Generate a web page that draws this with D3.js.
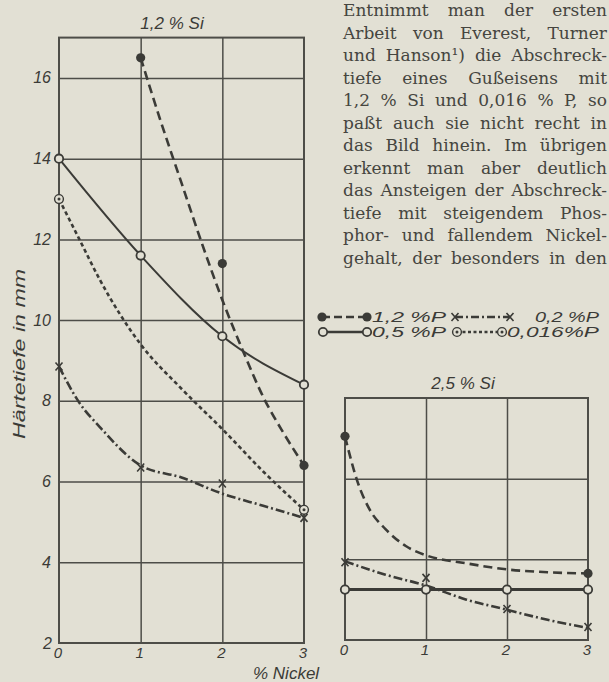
<!DOCTYPE html>
<html>
<head>
<meta charset="utf-8">
<script src="https://cdn.jsdelivr.net/npm/d3@7"></script>
<style>
  html, body { margin: 0; padding: 0; background: #e2e0d4; }
  svg { display: block; }
</style>
</head>
<body>
<svg id="fig" width="609" height="682"></svg>
<script>
// ---- data: chill depth (mm) versus nickel content (%) ----
const nickelTicks = [0, 1, 2, 3];
const depthTicksLow = [2, 4, 6, 8, 10, 12, 14, 16];
const depthTicksHigh = [2, 4, 6, 8];

// 1,2 % Si — measured points
const lowSiP12 = [[1, 16.5], [2, 11.4], [3, 6.4]];
const lowSiP05 = [[0, 14.0], [1, 11.6], [2, 9.6], [3, 8.4]];
const lowSiP02 = [[0, 8.85], [1, 6.35], [2, 5.95], [3, 5.1]];
const lowSiP0016 = [[0, 13.0], [3, 5.3]];
// 1,2 % Si — drawn trend curves
const lowSiP12Curve = [[1, 16.5], [1.25, 14.9], [1.5, 13.4], [1.75, 11.9], [2, 10.5], [2.25, 9.25], [2.5, 8.1], [2.75, 7.2], [3, 6.4]];
const lowSiP05Curve = [[0, 14.0], [1, 11.6], [2, 9.6], [3, 8.4]];
const lowSiP02Curve = [[0, 8.85], [0.25, 7.95], [0.5, 7.35], [1, 6.4], [1.5, 6.1], [2, 5.7], [2.5, 5.4], [3, 5.1]];
const lowSiP0016Curve = [[0, 13.0], [0.25, 12.0], [0.5, 11.0], [1, 9.4], [1.5, 8.3], [2, 7.3], [2.5, 6.25], [3, 5.3]];

// 2,5 % Si — measured points
const highSiP12 = [[0, 7.05], [3, 3.65]];
const highSiP05 = [[0, 3.25], [1, 3.25], [2, 3.25], [3, 3.25]];
const highSiP02 = [[0, 3.93], [1, 3.54], [2, 2.77], [3, 2.32]];
// 2,5 % Si — drawn trend curves
const highSiP12Curve = [[0, 7.05], [0.15, 5.95], [0.3, 5.25], [0.5, 4.75], [0.75, 4.33], [1, 4.1], [1.5, 3.9], [2, 3.75], [2.5, 3.68], [3, 3.65]];
const highSiP05Curve = [[0, 3.25], [3, 3.25]];
const highSiP02Curve = [[0, 3.95], [0.5, 3.62], [1, 3.35], [1.5, 3.0], [2, 2.75], [2.5, 2.5], [3, 2.3]];

// legend entries
const legendRows = [
  [{ key: "P12", label: "1,2 %P" }, { key: "P02", label: "0,2 %P" }],
  [{ key: "P05", label: "0,5 %P" }, { key: "P0016", label: "0,016%P" }]
];

// running text beside the figure
const paragraph = [
  "Entnimmt man der ersten",
  "Arbeit von Everest, Turner",
  "und Hanson¹) die Abschreck-",
  "tiefe eines Gußeisens mit",
  "1,2 % Si und 0,016 % P, so",
  "paßt auch sie nicht recht in",
  "das Bild hinein. Im übrigen",
  "erkennt man aber deutlich",
  "das Ansteigen der Abschreck-",
  "tiefe mit steigendem Phos-",
  "phor- und fallendem Nickel-",
  "gehalt, der besonders in den"
];

// ---- styling ----
const PAPER = "#e2e0d4";
const INK = "#3b3b37";
const GRID = "#4d4d48";
const LABEL_FONT = "'Liberation Sans', Arial, sans-serif";
const styles = {
  P12:   { dash: "9,5",      legendDash: "8,4",     width: 2.6, marker: "dot" },
  P05:   { dash: null,       legendDash: null,      width: 2.0, marker: "ring" },
  P02:   { dash: "9,3,2,3",  legendDash: "8,3,2,3", width: 2.6, marker: "cross" },
  P0016: { dash: "4,3",      legendDash: "3,2.5",   width: 2.6, marker: "double" }
};

const svg = d3.select("#fig");

function drawMarker(g, type, x, y) {
  if (type === "dot") {
    g.append("circle").attr("cx", x).attr("cy", y).attr("r", 4.6).attr("fill", INK);
  } else if (type === "ring") {
    g.append("circle").attr("cx", x).attr("cy", y).attr("r", 4.2)
      .attr("fill", PAPER).attr("stroke", INK).attr("stroke-width", 1.8);
  } else if (type === "double") {
    g.append("circle").attr("cx", x).attr("cy", y).attr("r", 4.4)
      .attr("fill", PAPER).attr("stroke", INK).attr("stroke-width", 1.4);
    g.append("circle").attr("cx", x).attr("cy", y).attr("r", 1.5).attr("fill", INK);
  } else if (type === "cross") {
    g.append("path")
      .attr("d", `M${x - 3.5},${y - 4}L${x + 3.5},${y + 4}M${x - 3.5},${y + 4}L${x + 3.5},${y - 4}`)
      .attr("stroke", INK).attr("stroke-width", 1.6).attr("fill", "none");
  }
}

function panel(opts) {
  const x = d3.scaleLinear().domain([0, 3]).range(opts.xRange);
  const y = d3.scaleLinear().domain(opts.yDomain).range(opts.yRange);
  const g = svg.append("g");

  // grid
  const gridY = opts.yTicks.filter(v => v > opts.yDomain[0] && v < opts.yDomain[1]);
  g.append("g").call(d3.axisLeft(y).tickValues(gridY).tickSize(-(opts.xRange[1] - opts.xRange[0])).tickFormat(""))
    .attr("transform", `translate(${opts.xRange[0]},0)`)
    .call(a => a.select(".domain").remove())
    .call(a => a.selectAll("line").attr("stroke", GRID).attr("stroke-width", 1.5));
  g.append("g").call(d3.axisBottom(x).tickValues([1, 2]).tickSize(-(opts.yRange[0] - opts.yRange[1])).tickFormat(""))
    .attr("transform", `translate(0,${opts.yRange[0]})`)
    .call(a => a.select(".domain").remove())
    .call(a => a.selectAll("line").attr("stroke", GRID).attr("stroke-width", 1.5));

  // frame
  g.append("rect")
    .attr("x", opts.xRange[0]).attr("y", opts.yRange[1])
    .attr("width", opts.xRange[1] - opts.xRange[0]).attr("height", opts.yRange[0] - opts.yRange[1])
    .attr("fill", "none").attr("stroke", GRID).attr("stroke-width", 2);

  // nickel tick labels
  g.append("g").selectAll("text").data(nickelTicks).join("text")
    .attr("x", d => x(d) - 1).attr("y", opts.yRange[0] + 15)
    .attr("text-anchor", "middle")
    .attr("font-family", LABEL_FONT).attr("font-style", "italic")
    .attr("font-size", 15).attr("fill", INK)
    .text(d => d);

  // depth tick labels
  if (opts.showY) {
    g.append("g").selectAll("text").data(opts.yTicks).join("text")
      .attr("x", d => d === 2 ? 52 : 51).attr("y", d => y(d) + 5.5)
      .attr("text-anchor", "end")
      .attr("font-family", LABEL_FONT).attr("font-style", "italic")
      .attr("font-size", 16).attr("fill", INK)
      .text(d => d);
  }

  // title
  g.append("text")
    .attr("x", opts.titleX).attr("y", opts.titleY)
    .attr("text-anchor", "middle")
    .attr("font-family", LABEL_FONT).attr("font-style", "italic")
    .attr("font-size", 17).attr("fill", INK)
    .text(opts.title);

  const line = d3.line().x(d => x(d[0])).y(d => y(d[1])).curve(d3.curveMonotoneX);
  opts.series.forEach(s => {
    const st = styles[s.key];
    g.append("path").attr("d", line(s.curve))
      .attr("fill", "none").attr("stroke", INK)
      .attr("stroke-width", s.width || st.width)
      .attr("stroke-dasharray", st.dash)
      .attr("stroke-linecap", "butt");
  });
  opts.series.forEach(s => {
    const st = styles[s.key];
    s.points.forEach(p => drawMarker(g, st.marker, x(p[0]), y(p[1])));
  });
  return { x, y };
}

// left panel: 1,2 % Si
panel({
  xRange: [59, 304], yDomain: [2, 17], yRange: [643, 37.6],
  yTicks: depthTicksLow, showY: true,
  title: "1,2 % Si", titleX: 172, titleY: 29,
  series: [
    { key: "P0016", points: lowSiP0016, curve: lowSiP0016Curve },
    { key: "P02", points: lowSiP02, curve: lowSiP02Curve },
    { key: "P05", points: lowSiP05, curve: lowSiP05Curve },
    { key: "P12", points: lowSiP12, curve: lowSiP12Curve }
  ]
});

// right panel: 2,5 % Si
panel({
  xRange: [345, 588], yDomain: [2, 8], yRange: [640, 398],
  yTicks: depthTicksHigh, showY: false,
  title: "2,5 % Si", titleX: 463, titleY: 389,
  series: [
    { key: "P02", points: highSiP02, curve: highSiP02Curve },
    { key: "P05", points: highSiP05, curve: highSiP05Curve, width: 3 },
    { key: "P12", points: highSiP12, curve: highSiP12Curve }
  ]
});

// axis titles
svg.append("text")
  .attr("transform", "translate(25,354) rotate(-90)")
  .attr("text-anchor", "middle")
  .attr("font-family", LABEL_FONT).attr("font-style", "italic")
  .attr("font-size", 17).attr("fill", INK)
  .attr("textLength", 170).attr("lengthAdjust", "spacingAndGlyphs")
  .text("Härtetiefe in mm");
svg.append("text")
  .attr("x", 253).attr("y", 679)
  .attr("font-family", LABEL_FONT).attr("font-style", "italic")
  .attr("font-size", 17).attr("fill", INK)
  .text("% Nickel");

// legend: [first key mark, second key mark, label start, label width] per column and row
const lg = svg.append("g");
const rowY = [317, 332];
const keyPos = [
  [[322, 367, 372, 74], [455, 510, 535, 64]],
  [[323, 367, 372, 74], [457, 502, 507, 92]]
];
legendRows.forEach((row, r) => {
  row.forEach((item, c) => {
    const st = styles[item.key];
    const [x0, x1, tx, tw] = keyPos[r][c];
    const yy = rowY[r];
    lg.append("line").attr("x1", x0).attr("x2", x1).attr("y1", yy).attr("y2", yy)
      .attr("stroke", INK).attr("stroke-width", 2.4)
      .attr("stroke-dasharray", st.legendDash);
    drawMarker(lg, st.marker, x0, yy);
    drawMarker(lg, st.marker, x1, yy);
    lg.append("text").attr("x", tx).attr("y", yy + 5)
      .attr("font-family", LABEL_FONT).attr("font-style", "italic")
      .attr("font-size", 14.5).attr("fill", INK)
      .attr("textLength", tw).attr("lengthAdjust", "spacingAndGlyphs")
      .text(item.label);
  });
});

// justified paragraph
const para = svg.append("g")
  .attr("font-family", "'DejaVu Serif', 'Liberation Serif', serif")
  .attr("font-size", 17).attr("fill", "#45453f");
const left = 343, right = 607;
paragraph.forEach((ln, i) => {
  const yy = 16 + i * 22.5;
  const words = ln.split(" ");
  const nodes = words.map(w => para.append("text").attr("y", yy).text(w));
  const widths = nodes.map(n => n.node().getComputedTextLength());
  const total = d3.sum(widths);
  const minGap = 5;
  let gap = (right - left - total) / (words.length - 1);
  let scale = 1;
  if (gap < minGap) { gap = minGap; scale = (right - left - gap * (words.length - 1)) / total; }
  let cx = left;
  nodes.forEach((n, k) => {
    const w = widths[k] * scale;
    n.attr("x", cx);
    if (scale !== 1) n.attr("textLength", w).attr("lengthAdjust", "spacingAndGlyphs");
    cx += w + gap;
  });
});
</script>
</body>
</html>
